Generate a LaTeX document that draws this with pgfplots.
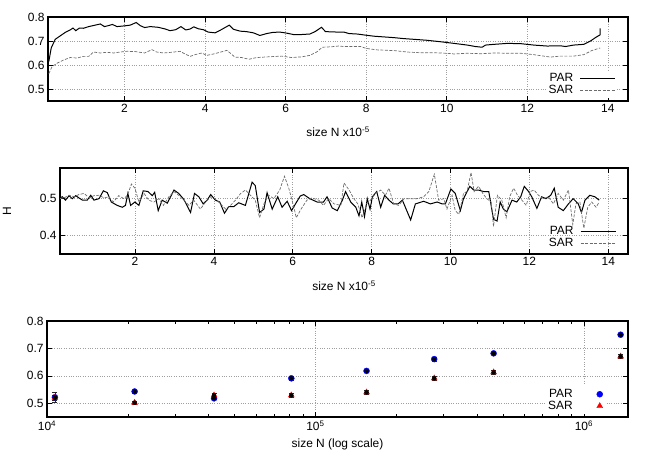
\documentclass[border=0pt]{standalone}
\usepackage{fontspec}
\setmainfont{Liberation Sans}
\usepackage{pgfplots}
\pgfplotsset{compat=1.18}

\pgfplotsset{
  gp/.style={
    scale only axis,
    font=\fontsize{12}{13}\selectfont,
    /pgf/number format/assume math mode=true,
    axis line style={line width=1.2pt},
    tick align=inside,
    major tick length=5bp,
    minor tick length=3bp,
    tick style={black, line width=0.6pt},
    grid=major,
    major grid style={dotted, gray!75, line width=0.6pt},
    legend cell align=right,
    legend plot pos=right,
    legend style={draw=none, fill=white, font=\fontsize{12}{12}\selectfont,
      inner sep=1bp, row sep=-2bp},
  },
  gpline/.style={
    legend image code/.code={\path[draw=none, fill=none] (0bp,-2bp) rectangle (40bp,2bp);
      \draw[##1] (5bp,0bp) -- (40bp,0bp);},
  },
  gpmark/.style={
    legend image code/.code={\path[draw=none, fill=none] (0bp,-2bp) rectangle (30bp,2bp);
      \draw[##1] plot coordinates {(25bp,0bp)};},
  },
  par/.style={black, line width=1pt},
  sar/.style={gray!85!black, line width=0.7pt, dash pattern=on 3bp off 1.5bp},
  ebar/.style={only marks, mark=none, forget plot,
    error bars/.cd, y dir=both, y explicit,
    error bar style={black!85, line width=0.5pt},
    error mark options={rotate=90, black!85, mark size=2.5bp, line width=0.5pt}},
}

\begin{document}
\begin{tikzpicture}
\useasboundingbox (0,0) rectangle (654bp,458bp);

% top: H vs size, running
\begin{axis}[gp, gpline,
  at={(48bp,357bp)}, anchor=south west,
  width=580bp, height=84bp,
  xmin=0.1, xmax=14.5, ymin=0.45, ymax=0.8,
  xtick={2,4,...,14}, ytick={0.5,0.6,0.7,0.8},
  yticklabel style={/pgf/number format/.cd, fixed, fixed zerofill, precision=1},
  xlabel={size N x10\textsuperscript{-5}},
  xlabel style={at={(axis description cs:0.5,0)}, anchor=center, yshift=-31bp},
  legend style={at={(0.981,0.03)}, anchor=south east},
]
\addplot[par] coordinates {
(0.12,0.614) (0.18,0.671) (0.28,0.707) (0.40,0.721) (0.53,0.736) (0.65,0.746)
(0.72,0.754) (0.79,0.743) (0.88,0.754) (0.98,0.753) (1.11,0.760) (1.27,0.766)
(1.40,0.771) (1.50,0.760) (1.60,0.764) (1.70,0.769) (1.81,0.760) (2.00,0.763)
(2.14,0.766) (2.29,0.777) (2.39,0.764) (2.50,0.756) (2.64,0.760) (2.84,0.757)
(3.01,0.750) (3.13,0.743) (3.27,0.747) (3.40,0.760) (3.52,0.746) (3.63,0.750)
(3.72,0.759) (3.83,0.751) (3.96,0.747) (4.08,0.737) (4.25,0.734) (4.40,0.747)
(4.60,0.766) (4.70,0.749) (4.87,0.741) (5.03,0.739) (5.20,0.734) (5.36,0.723)
(5.53,0.731) (5.69,0.736) (5.86,0.737) (6.02,0.733) (6.19,0.727) (6.40,0.727)
(6.60,0.729) (6.73,0.739) (6.89,0.757) (6.99,0.739) (7.31,0.737) (7.45,0.737)
(7.57,0.731) (7.78,0.729) (8.00,0.724) (8.19,0.720) (8.44,0.717) (8.69,0.714)
(8.93,0.710) (9.18,0.707) (9.51,0.703) (9.84,0.697) (10.18,0.690) (10.51,0.683)
(10.71,0.677) (10.88,0.674) (10.96,0.683) (11.17,0.686) (11.50,0.690) (11.83,0.689)
(12.16,0.683) (12.49,0.679) (12.82,0.680) (12.95,0.677) (13.15,0.683) (13.40,0.686)
(13.57,0.700) (13.69,0.714) (13.81,0.726) (13.81,0.753)
};
\addlegendentry{PAR}
\addplot[sar] coordinates {
(0.12,0.564) (0.20,0.593) (0.32,0.607) (0.49,0.621) (0.65,0.631) (0.82,0.629)
(0.98,0.636) (1.11,0.636) (1.23,0.654) (1.40,0.650) (1.56,0.653) (1.73,0.650)
(1.89,0.654) (2.06,0.657) (2.26,0.656) (2.50,0.650) (2.68,0.664) (2.80,0.654)
(2.97,0.650) (3.17,0.653) (3.38,0.657) (3.50,0.646) (3.63,0.636) (3.75,0.643)
(3.92,0.650) (4.04,0.640) (4.21,0.646) (4.37,0.653) (4.54,0.661) (4.62,0.650)
(4.74,0.633) (4.91,0.631) (5.09,0.624) (5.28,0.631) (5.57,0.634) (5.90,0.637)
(6.15,0.631) (6.40,0.634) (6.60,0.640) (6.77,0.654) (6.91,0.674) (7.14,0.676)
(7.31,0.679) (7.45,0.677) (7.86,0.677) (8.00,0.669) (8.27,0.663) (8.69,0.660)
(9.02,0.654) (9.35,0.651) (9.68,0.651) (10.00,0.649) (10.18,0.646) (10.51,0.649)
(10.84,0.647) (11.17,0.650) (11.50,0.649) (11.83,0.649) (12.16,0.643) (12.41,0.637)
(12.57,0.633) (12.82,0.637) (13.15,0.637) (13.40,0.643) (13.60,0.660) (13.81,0.671)
};
\addlegendentry{SAR}
\end{axis}

% middle: local H
\begin{axis}[gp, gpline,
  at={(60bp,204bp)}, anchor=south west,
  width=568bp, height=86bp,
  xmin=0.1, xmax=14.5, ymin=0.35, ymax=0.58,
  xtick={2,4,...,14}, ytick={0.4,0.5},
  yticklabel style={/pgf/number format/.cd, fixed, fixed zerofill, precision=1},
  xlabel={size N x10\textsuperscript{-5}},
  xlabel style={at={(axis description cs:0.5,0)}, anchor=center, yshift=-32bp},
  ylabel={H},
  ylabel style={at={(axis description cs:0,0.5)}, anchor=center, yshift=53bp},
  legend style={at={(0.981,0.03)}, anchor=south east, fill=none},
]
\addplot[par] coordinates {
(0.09,0.500) (0.16,0.503) (0.24,0.494) (0.33,0.506) (0.41,0.498) (0.50,0.506)
(0.58,0.500) (0.67,0.494) (0.79,0.494) (0.88,0.507) (0.96,0.494) (1.09,0.498)
(1.20,0.519) (1.30,0.514) (1.40,0.489) (1.55,0.480) (1.68,0.475) (1.76,0.480)
(1.82,0.512) (1.89,0.480) (2.00,0.489) (2.10,0.480) (2.21,0.519) (2.33,0.517)
(2.44,0.506) (2.50,0.515) (2.59,0.466) (2.69,0.494) (2.82,0.486) (2.99,0.521)
(3.11,0.512) (3.24,0.496) (3.41,0.461) (3.51,0.512) (3.62,0.503) (3.73,0.484)
(3.83,0.494) (3.92,0.509) (4.04,0.494) (4.15,0.489) (4.27,0.459) (4.38,0.477)
(4.51,0.477) (4.63,0.487) (4.80,0.480) (4.97,0.542) (5.05,0.533) (5.16,0.461)
(5.27,0.470) (5.35,0.514) (5.48,0.470) (5.62,0.503) (5.73,0.475) (5.86,0.491)
(5.97,0.466) (6.07,0.484) (6.19,0.505) (6.28,0.509) (6.43,0.498) (6.62,0.489)
(6.78,0.489) (6.87,0.503) (7.00,0.473) (7.13,0.466) (7.26,0.494) (7.34,0.517)
(7.47,0.489) (7.60,0.475) (7.68,0.452) (7.75,0.489) (7.82,0.450) (7.89,0.498)
(7.96,0.470) (8.02,0.503) (8.13,0.517) (8.23,0.475) (8.33,0.507) (8.44,0.494)
(8.55,0.484) (8.67,0.484) (8.78,0.494) (8.99,0.441) (9.11,0.484) (9.32,0.491)
(9.49,0.484) (9.66,0.489) (9.79,0.484) (9.87,0.484) (10.01,0.524) (10.12,0.512)
(10.25,0.466) (10.33,0.498) (10.49,0.531) (10.59,0.521) (10.71,0.521) (10.84,0.517)
(10.97,0.517) (11.09,0.443) (11.18,0.438) (11.26,0.489) (11.34,0.470) (11.43,0.463)
(11.56,0.494) (11.68,0.489) (11.78,0.503) (11.87,0.531) (11.98,0.517) (12.06,0.503)
(12.19,0.472) (12.31,0.503) (12.42,0.498) (12.54,0.507) (12.63,0.526) (12.73,0.475)
(12.86,0.466) (12.99,0.484) (13.11,0.498) (13.24,0.484) (13.32,0.461) (13.41,0.494)
(13.53,0.507) (13.66,0.503) (13.77,0.494)
};
\addlegendentry{PAR}
\addplot[sar] coordinates {
(0.09,0.498) (0.20,0.500) (0.33,0.507) (0.46,0.503) (0.58,0.509) (0.71,0.512)
(0.84,0.500) (0.96,0.506) (1.09,0.507) (1.22,0.500) (1.34,0.503) (1.45,0.489)
(1.59,0.506) (1.72,0.498) (1.81,0.507) (1.91,0.537) (2.00,0.526) (2.10,0.489)
(2.23,0.512) (2.35,0.494) (2.48,0.489) (2.61,0.498) (2.72,0.480) (2.86,0.503)
(2.99,0.517) (3.11,0.507) (3.24,0.494) (3.37,0.480) (3.49,0.494) (3.66,0.470)
(3.79,0.489) (3.92,0.503) (4.04,0.498) (4.17,0.484) (4.30,0.470) (4.42,0.480)
(4.55,0.494) (4.68,0.512) (4.80,0.521) (4.93,0.507) (5.05,0.494) (5.16,0.447)
(5.27,0.484) (5.39,0.507) (5.52,0.498) (5.67,0.521) (5.79,0.558) (5.90,0.526)
(6.03,0.475) (6.09,0.447) (6.21,0.470) (6.36,0.494) (6.49,0.500) (6.66,0.494)
(6.78,0.480) (6.91,0.498) (7.05,0.484) (7.22,0.480) (7.30,0.540) (7.43,0.521)
(7.55,0.498) (7.65,0.484) (7.76,0.447) (7.87,0.484) (7.97,0.494) (8.10,0.512)
(8.23,0.521) (8.35,0.507) (8.44,0.526) (8.56,0.484) (8.69,0.480) (8.82,0.498)
(8.99,0.498) (9.15,0.498) (9.32,0.503) (9.45,0.517) (9.59,0.563) (9.70,0.494)
(9.83,0.498) (9.91,0.470) (10.04,0.507) (10.12,0.466) (10.21,0.456) (10.33,0.512)
(10.42,0.517) (10.52,0.568) (10.60,0.517) (10.71,0.531) (10.82,0.512) (10.92,0.498)
(11.03,0.489) (11.09,0.424) (11.19,0.507) (11.30,0.494) (11.41,0.447) (11.50,0.503)
(11.60,0.526) (11.70,0.507) (11.81,0.494) (11.92,0.480) (12.02,0.517) (12.12,0.521)
(12.23,0.507) (12.36,0.498) (12.48,0.503) (12.61,0.484) (12.73,0.512) (12.86,0.494)
(12.99,0.521) (13.10,0.429) (13.18,0.484) (13.28,0.489) (13.38,0.419) (13.48,0.475)
(13.58,0.489) (13.69,0.475) (13.77,0.489)
};
\addlegendentry{SAR}
\end{axis}

% bottom: H vs size, log scale
\begin{axis}[gp, gpmark,
  at={(47bp,41bp)}, anchor=south west,
  width=581bp, height=96bp,
  xmode=log, xmin=1e4, xmax=1.46e6, ymin=0.45, ymax=0.8,
  xtick={1e4,1e5,1e6},
  xticklabels={10\textsuperscript{4},10\textsuperscript{5},10\textsuperscript{6}},
  ytick={0.5,0.6,0.7,0.8},
  yticklabel style={/pgf/number format/.cd, fixed, fixed zerofill, precision=1},
  xlabel={size N (log scale)},
  xlabel style={at={(axis description cs:0.5,0)}, anchor=center, yshift=-27bp},
  legend style={at={(0.962,0.03)}, anchor=south east},
]
\addplot[only marks, mark=*, mark size=3bp, blue,
  mark options={fill=blue, draw=blue}]
coordinates {
(1.07e4,0.522) (2.12e4,0.543) (4.19e4,0.518) (8.13e4,0.591)
(1.55e5,0.618) (2.77e5,0.661) (4.61e5,0.682) (1.37e6,0.750)
};
\addlegendentry{PAR}
\addplot[only marks, mark=triangle*, mark size=3.4bp, red,
  mark options={fill=red, draw=red}]
coordinates {
(1.07e4,0.520) (2.12e4,0.502) (4.19e4,0.529) (8.13e4,0.529)
(1.55e5,0.540) (2.77e5,0.591) (4.61e5,0.613) (1.37e6,0.671)
};
\addlegendentry{SAR}
\addplot[ebar] coordinates {
(1.07e4,0.522) +- (0,0.020)
(2.12e4,0.543) +- (0,0.005)
(4.19e4,0.518) +- (0,0.005)
(8.13e4,0.591) +- (0,0.006)
(1.55e5,0.618) +- (0,0.005)
(2.77e5,0.661) +- (0,0.006)
(4.61e5,0.682) +- (0,0.005)
(1.37e6,0.750) +- (0,0.006)
};
\addplot[ebar] coordinates {
(1.07e4,0.520) +- (0,0.010)
(2.12e4,0.502) +- (0,0.007)
(4.19e4,0.529) +- (0,0.008)
(8.13e4,0.529) +- (0,0.007)
(1.55e5,0.540) +- (0,0.007)
(2.77e5,0.591) +- (0,0.007)
(4.61e5,0.613) +- (0,0.006)
(1.37e6,0.671) +- (0,0.007)
};
\end{axis}
\end{tikzpicture}
\end{document}
